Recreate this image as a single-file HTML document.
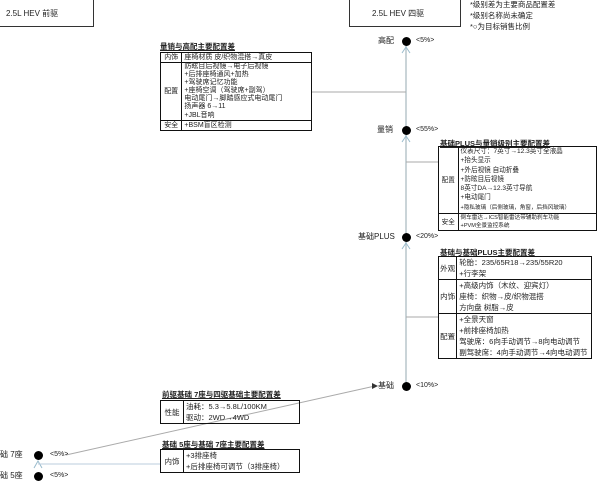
<!DOCTYPE html>
<html><head><meta charset="utf-8"><style>
body{margin:0;width:600px;height:483px;background:#fff;position:relative;overflow:hidden;font-family:"Liberation Sans","Noto Sans CJK SC",sans-serif;color:#222}
.a{position:absolute;white-space:nowrap;font-size:8px;line-height:10px}
.t{position:absolute;font-size:7.5px;font-weight:bold;text-decoration:underline;white-space:nowrap;line-height:9px}
table{position:absolute;border-collapse:collapse;font-size:7.5px;line-height:11px}
td{border:1.5px solid #111;padding:0 2px;vertical-align:middle;white-space:nowrap}
td.h{text-align:center;padding:0 1px}
.dot{position:absolute;width:9px;height:9px;border-radius:50%;background:#000}
</style></head><body>
<svg width="600" height="483" style="position:absolute;left:0;top:0">
<line x1="406" y1="45" x2="406" y2="386" stroke="#b8c6cc" stroke-width="1.5"/>
<g stroke="#9bc" fill="none" stroke-width="1"><path d="M402 53 L406 47 L410 53"/><path d="M402 142 L406 136 L410 142"/><path d="M402 249 L406 243 L410 249"/><path d="M34 468 L38 461 L42 468"/></g>
<g stroke="#aaa" stroke-width="1"><line x1="312" y1="92" x2="406" y2="92"/><line x1="406" y1="162" x2="438" y2="162"/><line x1="406" y1="317" x2="438" y2="317"/>
<line x1="66" y1="455" x2="375" y2="386"/><line x1="38" y1="464" x2="160" y2="464" stroke="#bcd"/></g>
<path d="M372 383 L378 386 L372 389Z" fill="#333"/>
</svg>
<div style="position:absolute;left:-2px;top:-2px;width:94px;height:27px;border:1.5px solid #333"></div>
<div class="a" style="left:6px;top:9px">2.5L HEV 前驱</div>
<div style="position:absolute;left:349px;top:-2px;width:110px;height:27px;border:1.5px solid #333"></div>
<div class="a" style="left:372px;top:9px">2.5L HEV 四驱</div>
<div class="a" style="left:470px;top:0px;font-size:7.5px">*级别差为主要商品配置差</div>
<div class="a" style="left:470px;top:11px;font-size:7.5px">*级别名称尚未确定</div>
<div class="a" style="left:470px;top:22px;font-size:7.5px">*○为目标销售比例</div>

<div class="dot" style="left:402px;top:37px"></div><div class="a" style="left:378px;top:36px">高配</div><div class="a" style="left:416px;top:36px;font-size:7px">&lt;5%&gt;</div>
<div class="dot" style="left:402px;top:126px"></div><div class="a" style="left:377px;top:125px">量销</div><div class="a" style="left:416px;top:125px;font-size:7px">&lt;55%&gt;</div>
<div class="dot" style="left:402px;top:233px"></div><div class="a" style="left:358px;top:232px">基础PLUS</div><div class="a" style="left:416px;top:232px;font-size:7px">&lt;20%&gt;</div>
<div class="dot" style="left:402px;top:382px"></div><div class="a" style="left:378px;top:381px">基础</div><div class="a" style="left:416px;top:381px;font-size:7px">&lt;10%&gt;</div>

<div class="dot" style="left:34px;top:451px"></div><div class="a" style="left:0px;top:450px">础 7座</div><div class="a" style="left:50px;top:450px;font-size:7px">&lt;5%&gt;</div>
<div class="dot" style="left:34px;top:472px"></div><div class="a" style="left:0px;top:471px">础 5座</div><div class="a" style="left:50px;top:471px;font-size:7px">&lt;5%&gt;</div>

<div class="t" style="left:160px;top:42px">量销与高配主要配置差</div>
<table style="left:160px;top:52px;width:152px;font-size:7px"><tr><td class="h" style="line-height:9px">内饰</td><td style="line-height:9px">座椅材质 皮/织物混搭→真皮</td></tr>
<tr><td class="h">配置</td><td style="line-height:8.1px">防眩目后视镜→电子后视镜<br>+后排座椅通风+加热<br>+驾驶席记忆功能<br>+座椅空调（驾驶席+副驾）<br>电动尾门→脚踏感应式电动尾门<br>扬声器 6→11<br>+JBL音响</td></tr>
<tr><td class="h" style="line-height:9px">安全</td><td style="line-height:9px">+BSM盲区检测</td></tr></table>

<div class="t" style="left:440px;top:139px">基础PLUS与量销级别主要配置差</div>
<table style="left:438px;top:146px;width:159px;font-size:6.6px"><tr><td class="h">配置</td><td style="line-height:9.3px">仪表尺寸：7英寸→12.3英寸全液晶<br>+抬头显示<br>+外后视镜 自动折叠<br>+防眩目后视镜<br>8英寸DA→12.3英寸导航<br>+电动尾门<br><span style="font-size:5.6px">+隐私玻璃（后侧玻璃，角窗，后挡风玻璃）</span></td></tr>
<tr><td class="h">安全</td><td style="line-height:8px;font-size:5.6px">倒车雷达→ICS智能雷达带辅助刹车功能<br>+PVM全景监控系统</td></tr></table>

<div class="t" style="left:440px;top:248px">基础与基础PLUS主要配置差</div>
<table style="left:438px;top:256px;width:154px"><tr><td class="h">外观</td><td>轮胎：235/65R18→235/55R20<br>+行李架</td></tr>
<tr><td class="h">内饰</td><td>+高级内饰（木纹、迎宾灯）<br>座椅：织物→皮/织物混搭<br>方向盘 树脂→皮</td></tr>
<tr><td class="h">配置</td><td>+全景天窗<br>+前排座椅加热<br>驾驶席：6向手动调节→8向电动调节<br>副驾驶席：4向手动调节→4向电动调节</td></tr></table>

<div class="t" style="left:162px;top:390px">前驱基础 7座与四驱基础主要配置差</div>
<table style="left:160px;top:400px;width:140px"><tr><td class="h" style="width:20px">性能</td><td>油耗：5.3→5.8L/100KM<br>驱动：2WD→4WD</td></tr></table>

<div class="t" style="left:162px;top:440px">基础 5座与基础 7座主要配置差</div>
<table style="left:160px;top:449px;width:140px"><tr><td class="h" style="width:20px">内饰</td><td>+3排座椅<br>+后排座椅可调节（3排座椅）</td></tr></table>
</body></html>
